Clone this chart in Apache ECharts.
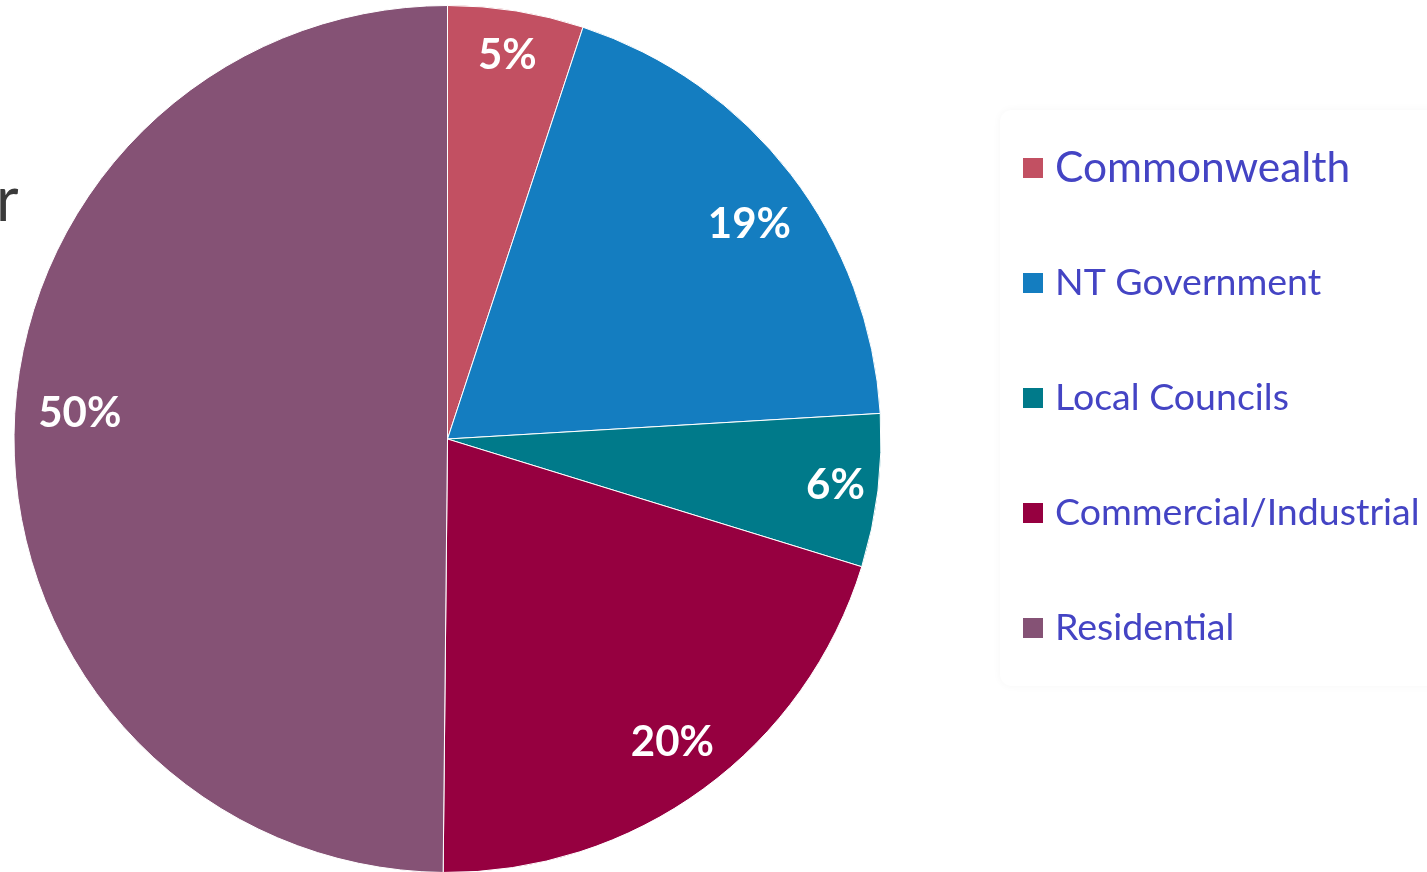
<!DOCTYPE html>
<html>
<head>
<meta charset="utf-8">
<title>Pie</title>
<script src="https://cdn.jsdelivr.net/npm/echarts@6/dist/echarts.min.js"></script>
<style>
  html, body { margin: 0; padding: 0; background: #fff; }
  #chart { width: 1427px; height: 872px; }
</style>
</head>
<body>
<div id="chart"></div>
<script>
// sectors and their shares (percent)
var categories = ['Commonwealth', 'NT Government', 'Local Councils', 'Commercial/Industrial', 'Residential'];
var shares = [5.06, 19.0, 5.7, 20.4, 49.84];
var colors = ['#c25062', '#147dc0', '#007a8a', '#960040', '#855275'];
// small nudges of the percentage labels (px)
var labelNudge = [[-1, -4], [-3, 20], [6, 0], [-2, -7], [17, -24]];

var pieData = categories.map(function (name, i) {
  return { name: name, value: shares[i], itemStyle: { color: colors[i] } };
});

// first entry is drawn a little larger than the rest in the original
var legendData = categories.map(function (name, i) {
  return { name: name, textStyle: { fontSize: i === 0 ? 42.5 : 37.5 } };
});

var chart = echarts.init(document.getElementById('chart'));

chart.setOption({
  animation: false,
  graphic: [{
    type: 'text',
    left: -4,
    top: 170,
    style: {
      text: 'r',
      fill: '#3a3a3a',
      font: '62px Lato'
    }
  }],
  legend: {
    orient: 'vertical',
    left: 1000,
    top: 110,
    padding: [33, 40, 33, 21],
    backgroundColor: '#fff',
    borderRadius: 12,
    shadowColor: 'rgba(0,0,0,0.04)',
    shadowBlur: 8,
    itemWidth: 22,
    itemHeight: 22,
    itemGap: 65,
    icon: 'rect',
    data: legendData,
    textStyle: {
      fontFamily: 'Lato',
      fontSize: 37.5,
      lineHeight: 50,
      color: '#4444c4',
      padding: [0, 0, 0, 6]
    }
  },
  series: [
    {
      type: 'pie',
      center: [447.5, 439],
      radius: [0, 433.5],
      startAngle: 90,
      clockwise: true,
      silent: true,
      itemStyle: { borderColor: '#fff', borderWidth: 1 },
      label: { show: false },
      labelLine: { show: false },
      data: pieData
    },
    {
      // transparent ring only used to place the percentage labels near the rim
      type: 'pie',
      center: [447.5, 439],
      radius: [330, 433.5],
      startAngle: 90,
      clockwise: true,
      silent: true,
      itemStyle: { color: 'transparent', borderWidth: 0 },
      label: {
        show: true,
        position: 'inside',
        color: '#fff',
        fontFamily: 'Lato',
        fontWeight: 'bold',
        fontSize: 42,
        formatter: function (p) { return Math.round(p.percent) + '%'; }
      },
      labelLine: { show: false },
      labelLayout: function (p) {
        return { dx: labelNudge[p.dataIndex][0], dy: labelNudge[p.dataIndex][1] };
      },
      data: categories.map(function (name, i) { return { name: name, value: shares[i] }; })
    }
  ]
});
</script>
</body>
</html>
